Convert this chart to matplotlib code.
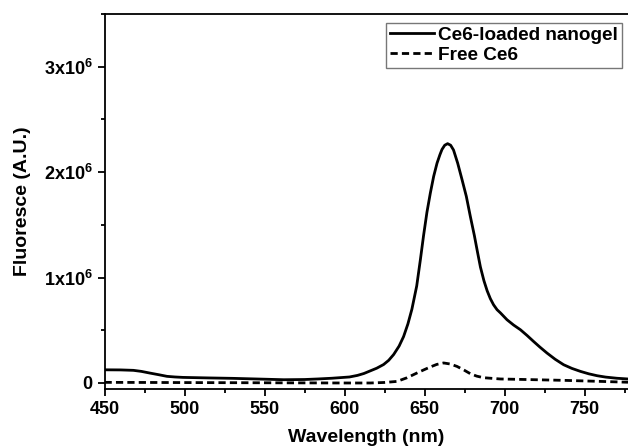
import matplotlib
matplotlib.use("Agg")
import matplotlib.pyplot as plt
from matplotlib.ticker import MultipleLocator, FuncFormatter

plt.rcParams['font.family'] = ['Liberation Sans', 'DejaVu Sans']
plt.rcParams['font.weight'] = 'bold'
plt.rcParams['mathtext.fontset'] = 'custom'
plt.rcParams['mathtext.rm'] = 'Liberation Sans:bold'
plt.rcParams['mathtext.bf'] = 'Liberation Sans:bold'

# wavelength (nm) / intensity (x1e6)
nanogel_wl = [450, 460, 468, 473, 478, 484, 489, 494, 499, 515, 530, 545, 562, 575, 583,
              592, 603, 608, 612, 616, 620, 624.3, 627.5, 630.6, 634, 636.8, 639.5, 642,
              645, 647.3, 649.3, 651.4, 653.5, 655.6, 657.7, 659.5, 660.8, 662.5, 664.3,
              666.2, 668, 670.6, 673.3, 676, 678.5, 681, 683, 684.8, 687, 689, 691, 693,
              695.2, 697.3, 701.4, 705.5, 709.8, 714, 718, 722, 726.4, 731.5, 736.8, 742,
              747.3, 752.5, 757.7, 763, 770, 777]
nanogel_val = [0.125, 0.124, 0.12, 0.11, 0.095, 0.078, 0.063, 0.057, 0.053, 0.048, 0.044,
               0.038, 0.031, 0.033, 0.038, 0.045, 0.057, 0.072, 0.09, 0.115, 0.14, 0.175,
               0.215, 0.27, 0.35, 0.44, 0.56, 0.70, 0.92, 1.17, 1.40, 1.62, 1.80, 1.96,
               2.085, 2.165, 2.215, 2.255, 2.27, 2.255, 2.21, 2.085, 1.93, 1.77, 1.58, 1.40,
               1.24, 1.10, 0.97, 0.875, 0.80, 0.742, 0.695, 0.665, 0.60, 0.55, 0.505,
               0.45, 0.394, 0.34, 0.284, 0.225, 0.173, 0.138, 0.11, 0.087, 0.069, 0.056,
               0.045, 0.038]

free_wl = [450, 500, 550, 600, 616, 625, 632.7, 639, 645.2, 649.5, 653.5, 657.5, 661.8,
           666, 670.2, 674.5, 678.5, 682.5, 686.8, 697.3, 710, 737, 760, 777]
free_val = [0.006, 0.004, 0.002, 0.0, 0.0, 0.005, 0.015, 0.05, 0.095, 0.125, 0.152, 0.176,
            0.19, 0.18, 0.157, 0.123, 0.088, 0.065, 0.05, 0.038, 0.034, 0.025, 0.015, 0.007]

fig = plt.figure(figsize=(6.28, 4.48), dpi=100)
ax = fig.add_axes([0.1665, 0.1317, 0.8335, 0.8371])

ax.plot(nanogel_wl, [v * 1e6 for v in nanogel_val], color='black', lw=2.0,
        label='Ce6-loaded nanogel')
ax.plot(free_wl, [v * 1e6 for v in free_val], color='black', lw=2.0,
        dashes=(2.6, 1.5), label='Free Ce6')

ax.set_xlim(450, 777)
ax.set_ylim(-0.057e6, 3.5e6)
ax.spines['right'].set_visible(False)
for s in ['left', 'bottom', 'top']:
    ax.spines[s].set_linewidth(1.3)

ax.xaxis.set_major_locator(MultipleLocator(50))
ax.xaxis.set_minor_locator(MultipleLocator(25))
ax.yaxis.set_major_locator(MultipleLocator(1e6))
ax.yaxis.set_minor_locator(MultipleLocator(0.5e6))


def yfmt(v, pos):
    if abs(v) < 1:
        return '0'
    return r'$\mathbf{%dx10^{6}}$' % round(v / 1e6)


ax.yaxis.set_major_formatter(FuncFormatter(yfmt))
ax.tick_params(which='major', direction='out', length=5, width=1.3, labelsize=13)
ax.tick_params(which='minor', direction='out', length=3, width=1.3)
ax.tick_params(top=False, right=False, which='both')

ax.set_xlabel('Wavelength (nm)', fontsize=14, fontweight='bold', labelpad=8)
ax.set_ylabel('Fluoresce (A.U.)', fontsize=14, fontweight='bold', labelpad=9)

leg = ax.legend(loc='upper right', fontsize=13.7, frameon=True, fancybox=False,
                edgecolor='#555555', handlelength=2.3, handletextpad=0.25,
                borderpad=0.2, labelspacing=0.15, borderaxespad=0,
                bbox_to_anchor=(0.9885, 0.977))
leg.get_frame().set_linewidth(1.0)

fig.savefig('out.png', dpi=100)
